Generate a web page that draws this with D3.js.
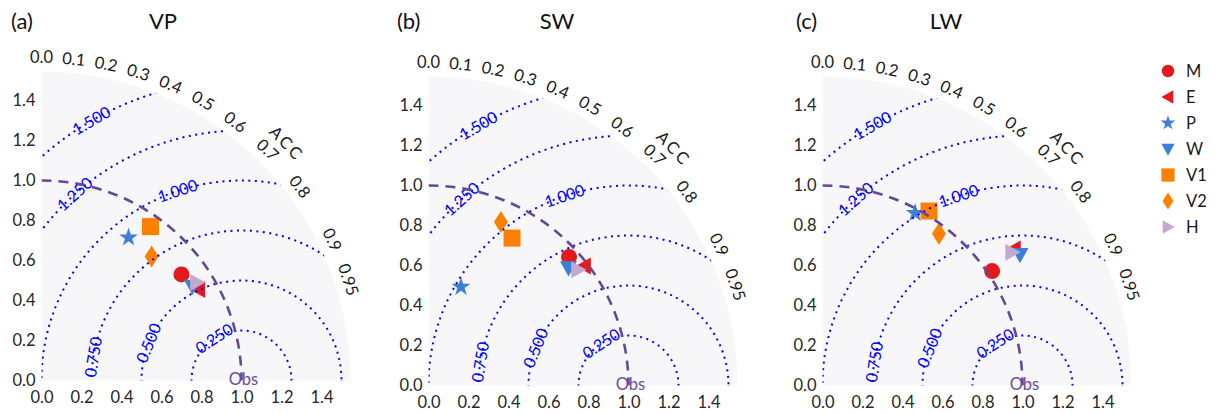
<!DOCTYPE html>
<html><head><meta charset="utf-8">
<script src="https://cdn.jsdelivr.net/npm/d3@7"></script>
<style>body{margin:0;background:#fff}svg{font-family:Lato,"Open Sans",sans-serif}</style>
</head><body><svg id="chart" width="1221" height="414"></svg>
<script>
// ---------------- data ----------------
const panelTags = ["(a)", "(b)", "(c)"];
const panelTitles = ["VP", "SW", "LW"];
const models = ["M", "E", "P", "W", "V1", "V2", "H"];
// standard deviation (normalised) and correlation (ACC) per model
const vpStd  = [0.878, 0.907, 0.837, 0.889, 0.943, 0.829, 0.919];
const vpCorr = [0.797, 0.865, 0.520, 0.849, 0.578, 0.664, 0.846];
const swStd  = [0.952, 0.981, 0.519, 0.914, 0.847, 0.894, 0.945];
const swCorr = [0.738, 0.793, 0.313, 0.766, 0.493, 0.405, 0.791];
const lwStd  = [1.023, 1.176, 0.979, 1.184, 1.022, 0.956, 1.159];
const lwCorr = [0.829, 0.814, 0.473, 0.834, 0.521, 0.609, 0.818];
const stdTicks = [0.0, 0.2, 0.4, 0.6, 0.8, 1.0, 1.2, 1.4];
const corrTicks = [0.0, 0.1, 0.2, 0.3, 0.4, 0.5, 0.6, 0.7, 0.8, 0.9, 0.95];
const corrTickLabels = ["0.0","0.1","0.2","0.3","0.4","0.5","0.6","0.7","0.8","0.9","0.95"];
const rmsLevels = [0.25, 0.5, 0.75, 1.0, 1.25, 1.5];
const rmsLabels = ["0.250", "0.500", "0.750", "1.000", "1.250", "1.500"];
const obsStd = 1.0;
const stdMax = 1.545;

// ---------------- layout / style ----------------
const origins = [[41.5, 380.5], [428.5, 385.5], [822.5, 385.5]];
const tagX = [11, 397, 796];
const titleX = [163, 557, 946];
const pxPerUnit = 200;
const rmsLabelAngle = [123, 158, 171, 108.6, 131.8, 120]; // degrees around (obs,0)
const colors = {M:"#e31a1c", E:"#e31a1c", P:"#3c7fd8", W:"#3c7fd8", V1:"#ff8000", V2:"#ff8000", H:"#c3a8d1"};
const shapes = {M:"circle", E:"left", P:"star", W:"down", V1:"square", V2:"diamond", H:"right"};
const bg = "#f7f7fa";
const fs = 16.5;

const datasets = [[vpStd, vpCorr], [swStd, swCorr], [lwStd, lwCorr]];
const svg = d3.select("#chart");

function shapePath(kind, s) {
  const p = d3.path();
  if (kind === "circle") { p.arc(0, 0, 8 * s, 0, 2 * Math.PI); return p.toString(); }
  if (kind === "star") return d3.symbol(d3.symbolStar, 110 * s * s)();
  if (kind === "square") { const h = 8.5 * s; p.rect(-h, -h, 2 * h, 2 * h); return p.toString(); }
  if (kind === "diamond") { p.moveTo(0, -11 * s); p.lineTo(7 * s, 0); p.lineTo(0, 11 * s); p.lineTo(-7 * s, 0); p.closePath(); return p.toString(); }
  const a = 8.5 * s;
  if (kind === "left") { p.moveTo(-a, 0); p.lineTo(a * 0.8, -a); p.lineTo(a * 0.8, a); p.closePath(); }
  if (kind === "right") { p.moveTo(a, 0); p.lineTo(-a * 0.8, -a); p.lineTo(-a * 0.8, a); p.closePath(); }
  if (kind === "down") { p.moveTo(0, a); p.lineTo(-a, -a * 0.8); p.lineTo(a, -a * 0.8); p.closePath(); }
  return p.toString();
}

datasets.forEach(([stds, corrs], pi) => {
  const [ox, oy] = origins[pi];
  const g = svg.append("g").attr("transform", `translate(${ox},${oy})`);
  const x = d3.scaleLinear().domain([0, stdMax]).range([0, stdMax * pxPerUnit]);
  const y = d3.scaleLinear().domain([0, stdMax]).range([0, -stdMax * pxPerUnit]);
  const R = x(stdMax);
  const quarter = d3.arc()({innerRadius: 0, outerRadius: R, startAngle: 0, endAngle: Math.PI / 2});

  g.append("path").attr("d", quarter).attr("fill", bg);
  const cid = "clip" + pi;
  svg.append("clipPath").attr("id", cid).attr("transform", `translate(${ox},${oy})`)
     .append("path").attr("d", quarter);
  const gc = svg.append("g").attr("clip-path", `url(#${cid})`)
     .append("g").attr("transform", `translate(${ox},${oy})`);

  // RMSD contours
  gc.selectAll("circle.rms").data(rmsLevels).join("circle")
    .attr("cx", x(obsStd)).attr("cy", y(0)).attr("r", d => x(d))
    .attr("fill", "none").attr("stroke", "#0000ff").attr("stroke-width", 2)
    .attr("stroke-dasharray", "2 4.5");

  // Obs std arc
  const op = d3.path();
  op.moveTo(0, y(obsStd));
  op.arc(0, 0, x(obsStd), -Math.PI / 2, 0);
  gc.append("path").attr("d", op.toString()).attr("fill", "none")
    .attr("stroke", "#654796").attr("stroke-width", 2.6).attr("stroke-dasharray", "10 7");

  // RMSD labels
  rmsLevels.forEach((r, i) => {
    const phi = rmsLabelAngle[i] * Math.PI / 180;
    const px = x(obsStd + r * Math.cos(phi)), py = y(r * Math.sin(phi));
    g.append("text").attr("transform", `translate(${px},${py}) rotate(${-(rmsLabelAngle[i] - 90)})`)
      .attr("text-anchor", "middle").attr("dy", "0.35em")
      .attr("font-size", 16).attr("fill", "#0000ff")
      .attr("stroke", bg).attr("stroke-width", 4).attr("paint-order", "stroke")
      .text(rmsLabels[i]);
  });

  // Obs label
  g.append("text").attr("x", x(obsStd) + 2).attr("y", 4).attr("text-anchor", "middle")
    .attr("font-size", 16.5).attr("fill", "#6a4c9c").text("Obs");

  // std axes
  const xa = g.append("g").call(d3.axisBottom(x).tickValues(stdTicks).tickSize(0).tickPadding(11).tickFormat(d3.format(".1f")));
  const ya = g.append("g").call(d3.axisLeft(y).tickValues(stdTicks).tickSize(0).tickPadding(6).tickFormat(d3.format(".1f")));
  [xa, ya].forEach(a => {
    a.select(".domain").remove();
    a.selectAll("text").attr("font-size", fs).attr("fill", "#262626").attr("font-family", "Lato, sans-serif");
  });

  // correlation tick labels
  const rl = x(1.615);
  corrTicks.forEach((c, i) => {
    const th = Math.acos(c);
    const deg = th * 180 / Math.PI;
    g.append("text")
      .attr("transform", `translate(${rl * Math.cos(th)},${-rl * Math.sin(th)}) rotate(${90 - deg})`)
      .attr("text-anchor", "middle").attr("dy", "0.35em")
      .attr("font-size", fs).attr("fill", "#1a1a1a").text(corrTickLabels[i]);
  });
  const ath = 44 * Math.PI / 180, ar = x(1.705);
  g.append("text").attr("transform", `translate(${ar * Math.cos(ath)},${-ar * Math.sin(ath)}) rotate(46)`)
    .attr("text-anchor", "middle").attr("dy", "0.35em").attr("letter-spacing", 3)
    .attr("font-size", fs).attr("fill", "#1a1a1a").text("ACC");

  // model markers
  models.forEach((m, i) => {
    const s = stds[i], c = corrs[i];
    g.append("path").attr("d", shapePath(shapes[m], 1))
      .attr("transform", `translate(${x(s * c)},${y(s * Math.sqrt(1 - c * c))})`)
      .attr("fill", colors[m]);
  });

  // titles
  svg.append("text").attr("x", tagX[pi]).attr("y", 29).attr("font-size", 22).attr("fill", "#111").text(panelTags[pi]);
  svg.append("text").attr("x", titleX[pi]).attr("y", 29).attr("text-anchor", "middle").attr("font-size", 22).attr("fill", "#111").text(panelTitles[pi]);
});

// legend
const lg = svg.append("g").attr("transform", "translate(1168,71)");
models.forEach((m, i) => {
  const row = lg.append("g").attr("transform", `translate(0,${i * 26})`);
  row.append("path").attr("d", shapePath(shapes[m], 0.78)).attr("fill", colors[m]);
  row.append("text").attr("x", 18).attr("dy", "0.35em").attr("font-size", fs).attr("fill", "#1a1a1a").text(m);
});
</script></body></html>
